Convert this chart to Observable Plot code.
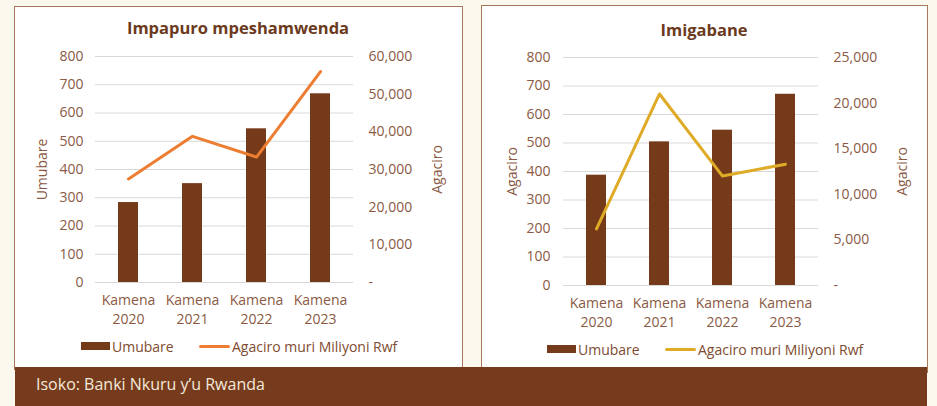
<!DOCTYPE html>
<html><head><meta charset="utf-8">
<script src="https://cdn.jsdelivr.net/npm/d3@7"></script>
<script src="https://cdn.jsdelivr.net/npm/@observablehq/plot@0.6"></script>
<style>
body{margin:0;background:#FBF8ED;font-family:"Open Sans",sans-serif;}
#root{position:relative;width:937px;height:406px;overflow:hidden;}
.panel{position:absolute;background:#fff;border:1.5px solid #A87658;box-sizing:border-box;}
.title{position:absolute;transform:translate(-50%,-50%);font-weight:700;font-size:16.5px;color:#6B3A1E;white-space:nowrap;}
.chart{position:absolute;}
.leg{position:absolute;font-size:14px;color:#7E4B30;white-space:nowrap;transform:translateY(-50%);}
.sw{position:absolute;}
#footer{position:absolute;left:15px;top:367px;width:912px;height:39px;background:#763B1C;color:#F3E9DA;font-size:16px;line-height:34px;padding-left:21px;box-sizing:border-box;}
</style></head>
<body><div id="root">
<div class="panel" style="left:14px;top:6px;width:449px;height:364px;"></div>
<div class="panel" style="left:481px;top:5px;width:447px;height:368px;"></div>
<div id="footer">Isoko: Banki Nkuru y’u Rwanda</div>
</div>
<script>
const years = ["Kamena\n2020", "Kamena\n2021", "Kamena\n2022", "Kamena\n2023"];
const impapuroUmubare = [283, 350, 544, 668];
const impapuroAgaciro = [27500, 38800, 33300, 56000];
const imigabaneUmubare = [387, 504, 545, 671];
const imigabaneAgaciro = [6200, 21000, 12000, 13300];
const leftTicks = [0, 100, 200, 300, 400, 500, 600, 700, 800];
const rightTicksA = [0, 10000, 20000, 30000, 40000, 50000, 60000];
const rightTicksB = [0, 5000, 10000, 15000, 20000, 25000];
const titles = ["Impapuro mpeshamwenda", "Imigabane"];
const legendLabels = ["Umubare", "Agaciro muri Miliyoni Rwf"];

const barColor = "#753A1A";
const textColor = "#8A5A44";
const fmt = d3.format(",");
const root = document.getElementById("root");

function chart(cfg) {
  const k = 800 / cfg.rightMax;
  const p = Plot.plot({
    width: cfg.width, height: 300,
    marginLeft: cfg.ml, marginRight: cfg.mr, marginTop: cfg.mt, marginBottom: 300 - cfg.mt - cfg.fh,
    style: {fontFamily: "Open Sans, sans-serif", fontSize: "14px", color: textColor, background: "transparent", overflow: "visible"},
    x: {domain: years, paddingInner: 0.69, paddingOuter: 0.345},
    y: {domain: [0, 800]},
    marks: [
      Plot.gridY(leftTicks, {stroke: "#D9D9D9", strokeOpacity: 1, strokeWidth: 1.2}),
      Plot.axisY({anchor: "left", ticks: leftTicks, tickSize: 0, tickPadding: cfg.lp, label: null}),
      Plot.axisY({anchor: "right", ticks: cfg.rightTicks.map(v => v * k), tickFormat: d => Math.round(d / k) === 0 ? "-" : fmt(Math.round(d / k)), tickSize: 0, tickPadding: 15, label: null}),
      Plot.axisX({tickSize: 0, tickPadding: 10, lineHeight: 1.3, label: null}),
      Plot.barY(cfg.bars, {x: years, y: d => d, fill: barColor}),
      Plot.lineY(cfg.line, {x: years, y: d => d * k, stroke: cfg.lineColor, strokeWidth: 3}),
      Plot.text([cfg.leftTitle], {frameAnchor: "left", textAnchor: "middle", lineAnchor: "middle", dx: cfg.ldx, rotate: -90, fontSize: 14, fill: textColor}),
      Plot.text([cfg.rightTitle], {frameAnchor: "right", textAnchor: "middle", lineAnchor: "middle", dx: 84, rotate: -90, fontSize: 14, fill: textColor})
    ]
  });
  p.classList.add("chart");
  p.style.left = cfg.left + "px";
  p.style.top = "40px";
  root.appendChild(p);

  const t = document.createElement("div");
  t.className = "title"; t.textContent = cfg.title;
  t.style.left = cfg.tx + "px"; t.style.top = cfg.ty + "px";
  root.appendChild(t);

  const ly = cfg.ly;
  const r = document.createElement("div");
  r.className = "sw";
  Object.assign(r.style, {left: cfg.lg[0] + "px", top: (ly - 4) + "px", width: "29px", height: "8px", background: barColor});
  root.appendChild(r);
  const l1 = document.createElement("div");
  l1.className = "leg"; l1.textContent = legendLabels[0];
  Object.assign(l1.style, {left: (cfg.lg[0] + 31) + "px", top: ly + "px"});
  root.appendChild(l1);
  const s = document.createElement("div");
  s.className = "sw";
  Object.assign(s.style, {left: cfg.lg[1] + "px", top: (ly - 1.5) + "px", width: "31px", height: "3px", background: cfg.lineColor, borderRadius: "1.5px"});
  root.appendChild(s);
  const l2 = document.createElement("div");
  l2.className = "leg"; l2.textContent = legendLabels[1];
  Object.assign(l2.style, {left: (cfg.lg[1] + 33) + "px", top: ly + "px"});
  root.appendChild(l2);
}

chart({left: 14, width: 449, ml: 81, mr: 110, mt: 16, fh: 226, lp: 12, ldx: -53,
  rightMax: 60000, rightTicks: rightTicksA, bars: impapuroUmubare, line: impapuroAgaciro,
  lineColor: "#ED7D31", leftTitle: "Umubare", rightTitle: "Agaciro",
  title: titles[0], tx: 238, ty: 27, ly: 346, lg: [81, 199]});
chart({left: 481, width: 447, ml: 82, mr: 110, mt: 17, fh: 228, lp: 13, ldx: -51,
  rightMax: 25000, rightTicks: rightTicksB, bars: imigabaneUmubare, line: imigabaneAgaciro,
  lineColor: "#DFAB27", leftTitle: "Agaciro", rightTitle: "Agaciro",
  title: titles[1], tx: 704, ty: 29, ly: 349, lg: [547, 665]});
</script>
</body></html>
